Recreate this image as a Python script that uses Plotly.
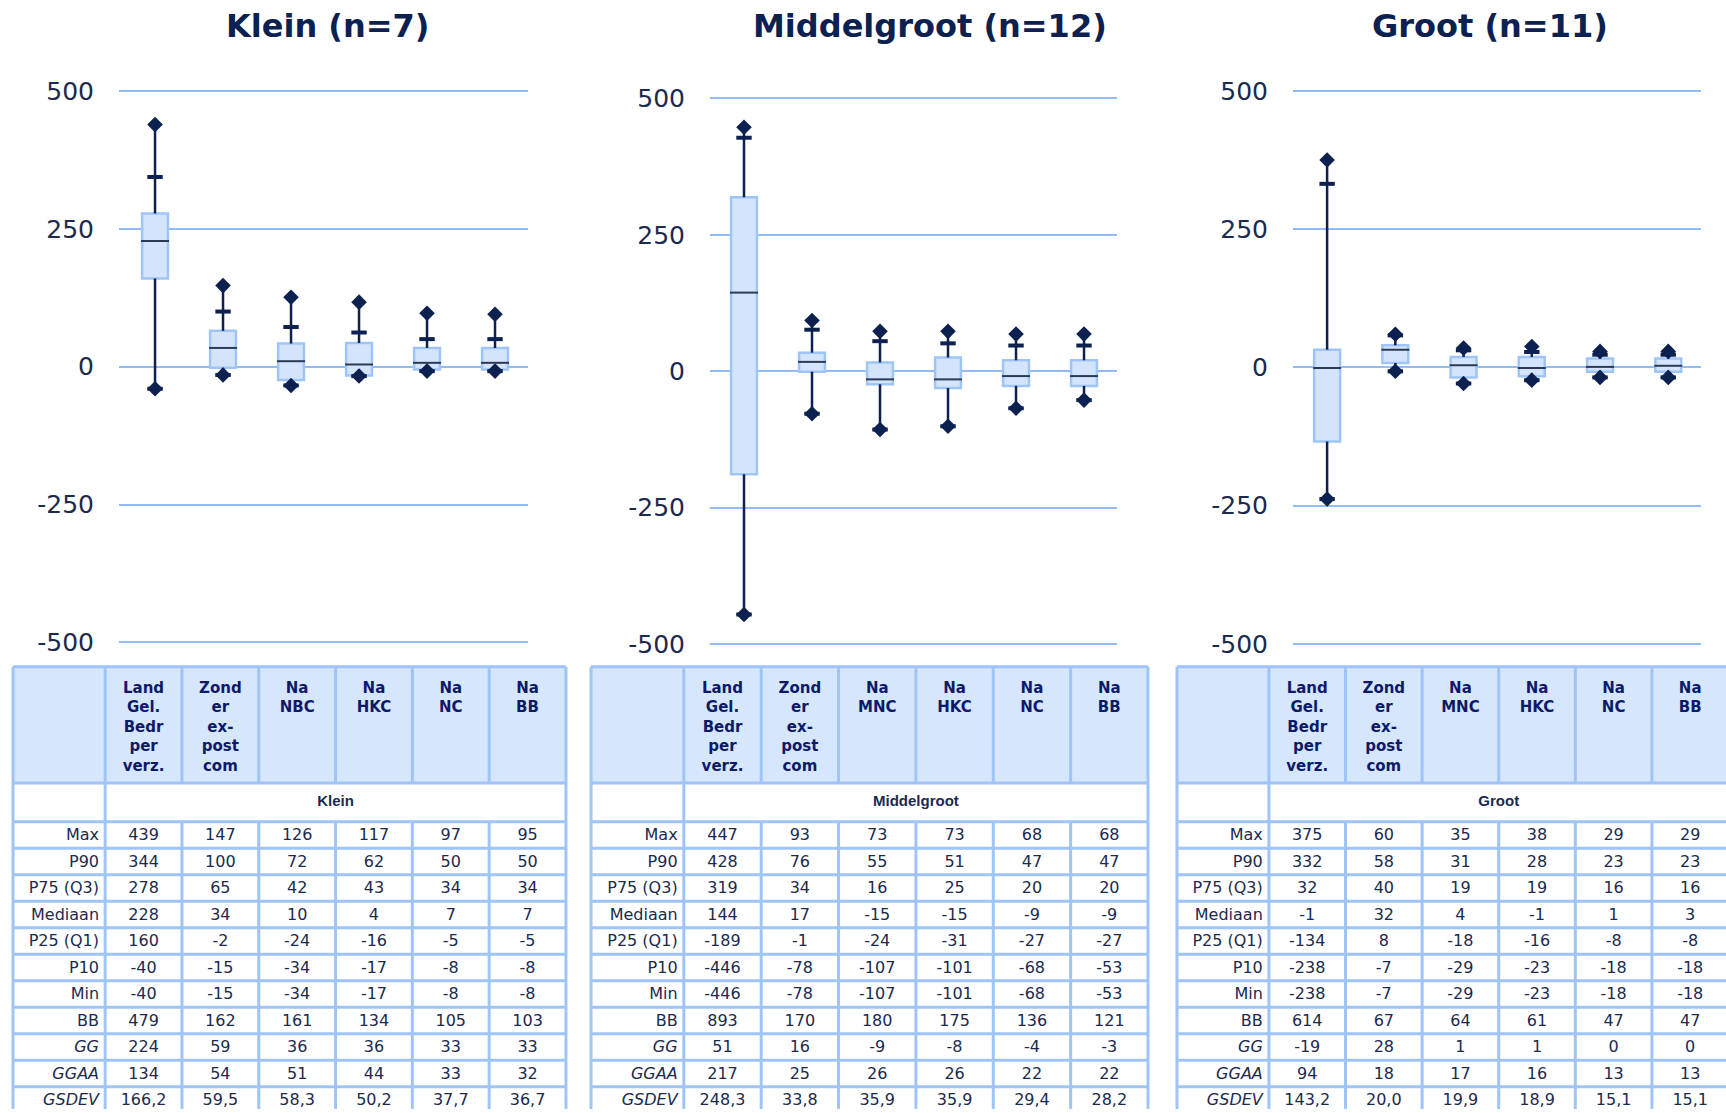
import plotly.graph_objects as go

# ---------------- data ----------------
groups = ["Klein", "Middelgroot", "Groot"]
group_n = [7, 12, 11]

headers_klein = ["Land Gel. Bedr per verz.", "Zond er ex- post com", "Na NBC", "Na HKC", "Na NC", "Na BB"]
headers_other = ["Land Gel. Bedr per verz.", "Zond er ex- post com", "Na MNC", "Na HKC", "Na NC", "Na BB"]

row_labels = ["Max", "P90", "P75 (Q3)", "Mediaan", "P25 (Q1)", "P10", "Min", "BB", "GG", "GGAA", "GSDEV"]
italic_rows = ["GG", "GGAA", "GSDEV"]

y_tickvals = [-500, -250, 0, 250, 500]
y_ticktext = ["-500", "-250", "0", "250", "500"]

klein_max = [439, 147, 126, 117, 97, 95]
klein_p90 = [344, 100, 72, 62, 50, 50]
klein_q3 = [278, 65, 42, 43, 34, 34]
klein_med = [228, 34, 10, 4, 7, 7]
klein_q1 = [160, -2, -24, -16, -5, -5]
klein_p10 = [-40, -15, -34, -17, -8, -8]
klein_min = [-40, -15, -34, -17, -8, -8]
klein_bb = [479, 162, 161, 134, 105, 103]
klein_gg = [224, 59, 36, 36, 33, 33]
klein_ggaa = [134, 54, 51, 44, 33, 32]
klein_gsdev = [166.2, 59.5, 58.3, 50.2, 37.7, 36.7]

mid_max = [447, 93, 73, 73, 68, 68]
mid_p90 = [428, 76, 55, 51, 47, 47]
mid_q3 = [319, 34, 16, 25, 20, 20]
mid_med = [144, 17, -15, -15, -9, -9]
mid_q1 = [-189, -1, -24, -31, -27, -27]
mid_p10 = [-446, -78, -107, -101, -68, -53]
mid_min = [-446, -78, -107, -101, -68, -53]
mid_bb = [893, 170, 180, 175, 136, 121]
mid_gg = [51, 16, -9, -8, -4, -3]
mid_ggaa = [217, 25, 26, 26, 22, 22]
mid_gsdev = [248.3, 33.8, 35.9, 35.9, 29.4, 28.2]

groot_max = [375, 60, 35, 38, 29, 29]
groot_p90 = [332, 58, 31, 28, 23, 23]
groot_q3 = [32, 40, 19, 19, 16, 16]
groot_med = [-1, 32, 4, -1, 1, 3]
groot_q1 = [-134, 8, -18, -16, -8, -8]
groot_p10 = [-238, -7, -29, -23, -18, -18]
groot_min = [-238, -7, -29, -23, -18, -18]
groot_bb = [614, 67, 64, 61, 47, 47]
groot_gg = [-19, 28, 1, 1, 0, 0]
groot_ggaa = [94, 18, 17, 16, 13, 13]
groot_gsdev = [143.2, 20.0, 19.9, 18.9, 15.1, 15.1]

stats = [
    dict(mx=klein_max, p90=klein_p90, q3=klein_q3, med=klein_med, q1=klein_q1, p10=klein_p10, mn=klein_min,
         bb=klein_bb, gg=klein_gg, ggaa=klein_ggaa, gsdev=klein_gsdev, headers=headers_klein),
    dict(mx=mid_max, p90=mid_p90, q3=mid_q3, med=mid_med, q1=mid_q1, p10=mid_p10, mn=mid_min,
         bb=mid_bb, gg=mid_gg, ggaa=mid_ggaa, gsdev=mid_gsdev, headers=headers_other),
    dict(mx=groot_max, p90=groot_p90, q3=groot_q3, med=groot_med, q1=groot_q1, p10=groot_p10, mn=groot_min,
         bb=groot_bb, gg=groot_gg, ggaa=groot_ggaa, gsdev=groot_gsdev, headers=headers_other),
]

# ---------------- styles ----------------
W, H = 1726, 1113
DARK = "#0c2150"
MED_LINE = "#2d3a55"
GRID = "#93bbf5"
BOX_FILL = "#d4e4fc"
BOX_LINE = "#9fc5f8"
TBL_LINE = "#9fc4f8"
HDR_FILL = "#d6e6fd"
HDR_TXT = "#0d1a68"
TXT = "#1c2a4e"
FONT = "DejaVu Sans"

fig = go.Figure()

# chart panel geometry (pixels)
panel_x = [(119, 528), (710, 1117), (1293, 1701)]
panel_xrange = [[-0.53, 5.485], [-0.5, 5.485], [-0.5, 5.48]]
panel_ypix = [(88.5, 643.5), (96, 645), (88.5, 645)]   # pixel of +500 / -500
title_x = [327, 930, 1490]

idx = list(range(6))

for p, st in enumerate(stats):
    s = "" if p == 0 else str(p + 1)
    xa, ya = "x" + s, "y" + s
    q1, q3 = st["q1"], st["q3"]
    # box
    fig.add_trace(go.Bar(x=idx, y=[b - a for a, b in zip(q1, q3)], base=q1, width=0.38,
                         marker=dict(color=BOX_FILL, line=dict(color=BOX_LINE, width=2.5)),
                         xaxis=xa, yaxis=ya, hoverinfo="skip"))
    # whiskers (outside the box)
    wx, wy = [], []
    for i in idx:
        wx += [i, i, None, i, i, None]
        wy += [q3[i], st["mx"][i], None, q1[i], st["mn"][i], None]
    fig.add_trace(go.Scatter(x=wx, y=wy, mode="lines", line=dict(color=DARK, width=2.5),
                             xaxis=xa, yaxis=ya, hoverinfo="skip"))
    # P90 / P10 ticks
    fig.add_trace(go.Scatter(x=idx + idx, y=st["p90"] + st["p10"], mode="markers",
                             marker=dict(symbol="line-ew", size=11, line=dict(color=DARK, width=4)),
                             xaxis=xa, yaxis=ya, hoverinfo="skip"))
    # median
    fig.add_trace(go.Scatter(x=idx, y=st["med"], mode="markers",
                             marker=dict(symbol="line-ew", size=20, line=dict(color=MED_LINE, width=2)),
                             xaxis=xa, yaxis=ya, hoverinfo="skip"))
    # min / max diamonds
    fig.add_trace(go.Scatter(x=idx + idx, y=st["mx"] + st["mn"], mode="markers",
                             marker=dict(symbol="diamond", size=12, color=DARK, line=dict(width=0)),
                             xaxis=xa, yaxis=ya, hoverinfo="skip"))

    x0, x1 = panel_x[p]
    ytop, ybot = panel_ypix[p]
    ppu = (ybot - ytop) / 1000.0
    dom_top = ytop - 20 * ppu
    dom_bot = ybot + 20 * ppu
    fig.update_layout(**{
        "xaxis" + s: dict(domain=[x0 / W, x1 / W], range=panel_xrange[p], showgrid=False, zeroline=False,
                          showticklabels=False, showline=False, ticks="", fixedrange=True),
        "yaxis" + s: dict(domain=[1 - dom_bot / H, 1 - dom_top / H], range=[-520, 520], anchor=xa,
                          tickvals=y_tickvals, ticktext=y_ticktext, showgrid=True, gridcolor=GRID,
                          gridwidth=2, zeroline=False, showline=False, ticks="", ticklabelstandoff=24,
                          tickfont=dict(family=FONT, size=25, color=TXT), fixedrange=True),
    })
    fig.add_annotation(x=title_x[p] / W, y=1 - 23 / H, xref="paper", yref="paper",
                       text="<b>%s (n=%d)</b>" % (groups[p], group_n[p]), showarrow=False,
                       xanchor="center", yanchor="middle",
                       font=dict(family=FONT, size=32, color=DARK))

# ---------------- tables ----------------
table_left = [13, 591, 1177]
table_ppu = [76.8, 77.36, 76.6]
LBL_W = 1.2
TOP_PX = 668
ROW_PX = 26.67
HDR_END = 117 / ROW_PX
GRP_END = HDR_END + 39 / ROW_PX
n_rows = len(row_labels)

def fmt(v):
    if isinstance(v, float):
        return ("%.1f" % v).replace(".", ",")
    return str(v)

for t, st in enumerate(stats):
    s = str(t + 4)
    xa, ya = "x" + s, "y" + s
    left, ppu = table_left[t], table_ppu[t]
    xr0 = -LBL_W - 0.05
    dom_l = (left - 0.05 * ppu) / W
    xr1 = 6.05
    dom_r = (left + (LBL_W + 6.05) * ppu) / W
    if dom_r > 1:
        xr1 = (W - left) / ppu - LBL_W
        dom_r = 1.0
    yr_top = -0.15
    yr_bot = (H - TOP_PX) / ROW_PX
    fig.update_layout(**{
        "xaxis" + s: dict(domain=[dom_l, dom_r], range=[xr0, xr1], visible=False, fixedrange=True),
        "yaxis" + s: dict(domain=[0, 1 - (TOP_PX - 0.15 * ROW_PX) / H], range=[yr_bot, yr_top],
                          visible=False, anchor=xa, fixedrange=True),
    })
    # header fill
    fig.add_shape(type="rect", xref=xa, yref=ya, x0=-LBL_W, x1=6, y0=0, y1=HDR_END,
                  fillcolor=HDR_FILL, line=dict(width=0), layer="below")
    # grid lines
    lx, ly = [], []
    hlines = [0, HDR_END, GRP_END] + [GRP_END + k + 1 for k in range(n_rows)]
    for yv in hlines:
        lx += [-LBL_W, 6, None]
        ly += [yv, yv, None]
    bottom = GRP_END + n_rows + 1
    for xv in [-LBL_W, 0, 6]:
        lx += [xv, xv, None]
        ly += [0, bottom, None]
    for xv in range(1, 6):
        lx += [xv, xv, None, xv, xv, None]
        ly += [0, HDR_END, None, GRP_END, bottom, None]
    fig.add_trace(go.Scatter(x=lx, y=ly, mode="lines", line=dict(color=TBL_LINE, width=3),
                             xaxis=xa, yaxis=ya, hoverinfo="skip"))
    # header text
    fig.add_trace(go.Scatter(x=[i + 0.5 for i in idx], y=[0.55] * 6,
                             text=["<b>" + h.replace(" ", "<br>") + "</b>" for h in st["headers"]],
                             mode="text", textposition="bottom center",
                             textfont=dict(family=FONT, size=15, color=HDR_TXT),
                             xaxis=xa, yaxis=ya, hoverinfo="skip"))
    # group label
    fig.add_trace(go.Scatter(x=[3], y=[(HDR_END + GRP_END) / 2], text=["<b>" + groups[t] + "</b>"],
                             mode="text", textposition="middle center",
                             textfont=dict(family="Liberation Sans", size=15, color=TXT),
                             xaxis=xa, yaxis=ya, hoverinfo="skip"))
    # row labels
    fig.add_trace(go.Scatter(x=[-0.08] * n_rows, y=[GRP_END + r + 0.55 for r in range(n_rows)],
                             text=[("<i>%s</i>" % l) if l in italic_rows else l for l in row_labels],
                             mode="text", textposition="middle left",
                             textfont=dict(family=FONT, size=16, color=TXT),
                             xaxis=xa, yaxis=ya, hoverinfo="skip"))
    # values
    rows = [st["mx"], st["p90"], st["q3"], st["med"], st["q1"], st["p10"], st["mn"],
            st["bb"], st["gg"], st["ggaa"], st["gsdev"]]
    vx, vy, vt = [], [], []
    for r, vals in enumerate(rows):
        for c, v in enumerate(vals):
            vx.append(c + 0.5)
            vy.append(GRP_END + r + 0.55)
            vt.append(fmt(v))
    fig.add_trace(go.Scatter(x=vx, y=vy, text=vt, mode="text", textposition="middle center",
                             textfont=dict(family=FONT, size=16, color=TXT),
                             xaxis=xa, yaxis=ya, hoverinfo="skip"))

fig.update_layout(width=W, height=H, margin=dict(l=0, r=0, t=0, b=0, pad=0),
                  paper_bgcolor="white", plot_bgcolor="rgba(0,0,0,0)", showlegend=False,
                  barmode="overlay")

fig.write_html("out.html", config={"displayModeBar": False},
               post_script="document.body.style.margin='0px';document.body.style.overflow='hidden';")
